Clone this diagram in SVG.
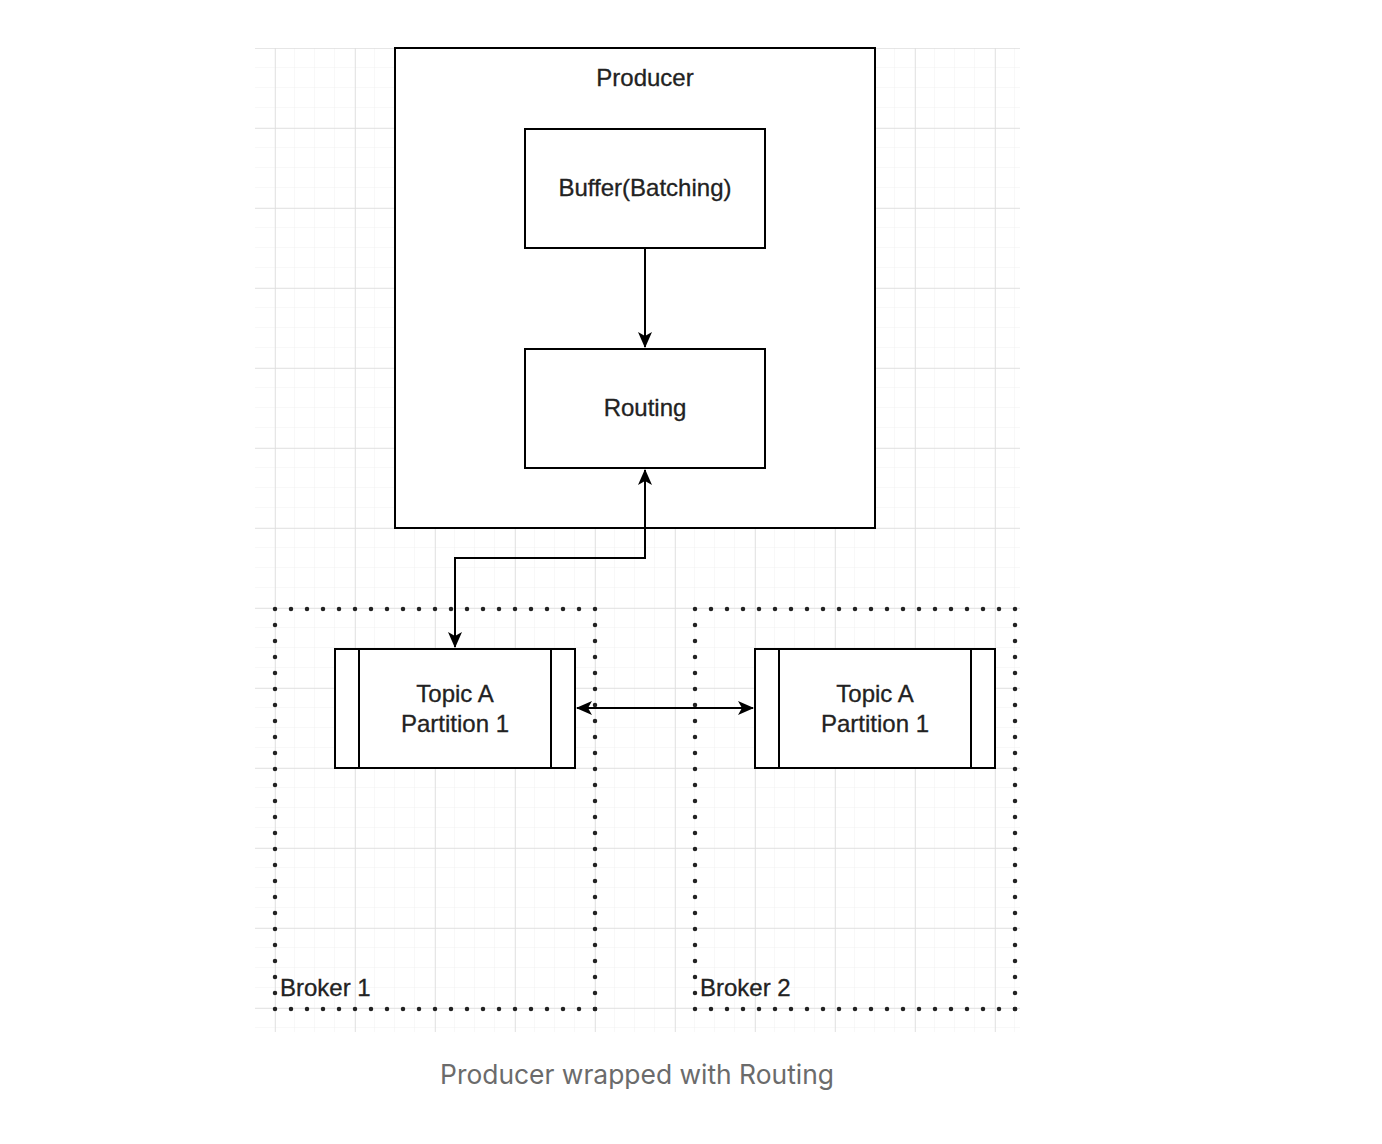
<svg xmlns="http://www.w3.org/2000/svg" width="1382" height="1144" viewBox="0 0 1382 1144">
<defs>
<pattern id="minor" x="255" y="48" width="20" height="20" patternUnits="userSpaceOnUse">
<path d="M20 0V20M0 20H20" fill="none" stroke="#f0f0f0" stroke-width="1"/>
</pattern>
<pattern id="major" x="275" y="48" width="80" height="80" patternUnits="userSpaceOnUse">
<path d="M0 0V80M0 0H80" fill="none" stroke="#dedede" stroke-width="1.5"/>
</pattern>
<marker id="ah" viewBox="0 0 16 16" refX="15" refY="8" markerWidth="16" markerHeight="16" orient="auto-start-reverse" markerUnits="userSpaceOnUse">
<path d="M0 1L16 8L0 15L4 8Z" fill="#000"/>
</marker>
</defs>
<style>
.box{fill:#fff;stroke:#000;stroke-width:2}
.line{fill:none;stroke:#000;stroke-width:2}
.dots{fill:none;stroke:#222;stroke-width:4.5;stroke-dasharray:0 16;stroke-linecap:round}
.t{font-family:"Liberation Sans",Arial,sans-serif;font-size:24px;fill:#222;stroke:#222;stroke-width:0.3;text-anchor:middle}
.tl{font-family:"Liberation Sans",Arial,sans-serif;font-size:24px;fill:#222;stroke:#222;stroke-width:0.3}
.cap{font-family:Inter,"Open Sans",sans-serif;font-size:26.4px;fill:#6b6b6b;text-anchor:middle}
</style>
<rect width="1382" height="1144" fill="#fff"/>
<g id="grid">
<rect x="255" y="48" width="765" height="984" fill="url(#minor)"/>
<rect x="255" y="48" width="765" height="984" fill="url(#major)"/>
</g>
<g id="broker1">
<path class="dots" d="M275 609H595V1009H275Z"/>
<path class="dots" d="M595 1009V1025"/>
<text class="tl" x="280" y="996">Broker 1</text>
</g>
<g id="broker2">
<path class="dots" d="M695 609H1015V1009H695Z"/>
<path class="dots" d="M1015 1009V1025"/>
<text class="tl" x="700" y="996">Broker 2</text>
</g>
<g id="producer">
<rect class="box" x="395" y="48" width="480" height="480"/>
<text class="t" x="645" y="86">Producer</text>
</g>
<g id="buffer">
<rect class="box" x="525" y="129" width="240" height="119"/>
<text class="t" x="645" y="196">Buffer(Batching)</text>
</g>
<g id="routing">
<rect class="box" x="525" y="349" width="240" height="119"/>
<text class="t" x="645" y="416">Routing</text>
</g>
<g id="topic1">
<rect class="box" x="335" y="649" width="240" height="119"/>
<path class="line" d="M359 649V768M551 649V768"/>
<text class="t" x="455" y="702">Topic A</text>
<text class="t" x="455" y="732">Partition 1</text>
</g>
<g id="topic2">
<rect class="box" x="755" y="649" width="240" height="119"/>
<path class="line" d="M779 649V768M971 649V768"/>
<text class="t" x="875" y="702">Topic A</text>
<text class="t" x="875" y="732">Partition 1</text>
</g>
<g id="connectors">
<path class="line" d="M645 248V347" marker-end="url(#ah)"/>
<path class="line" d="M645 470V558H455V647" marker-start="url(#ah)" marker-end="url(#ah)"/>
<path class="line" d="M577 708H753" marker-start="url(#ah)" marker-end="url(#ah)"/>
</g>
<text class="cap" x="637" y="1084">Producer wrapped with Routing</text>
</svg>
